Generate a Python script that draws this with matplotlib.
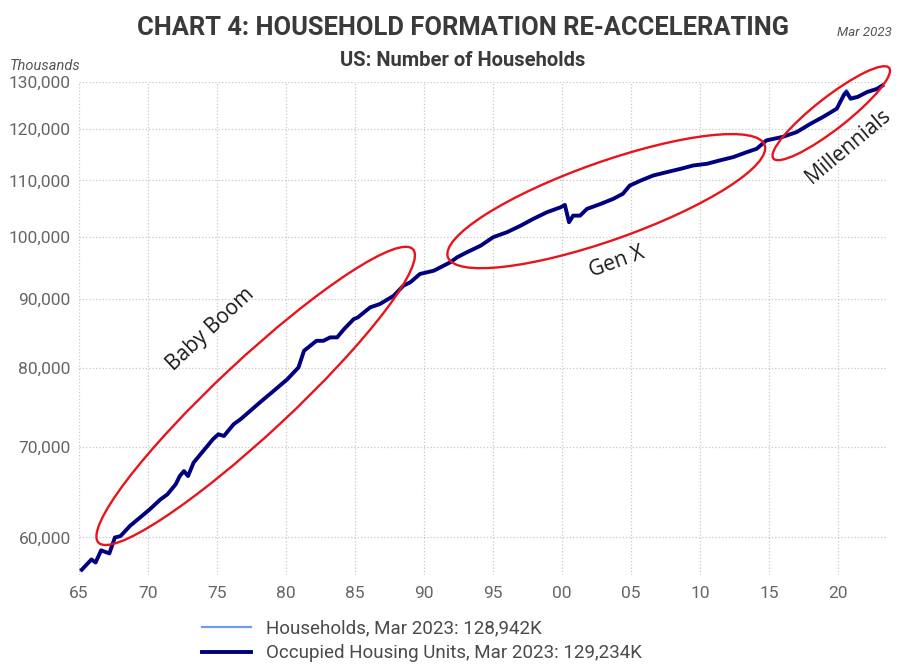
import numpy as np
import matplotlib.pyplot as plt
from matplotlib.patches import Ellipse
from matplotlib.transforms import ScaledTranslation
from matplotlib.ticker import FixedLocator, FuncFormatter, NullLocator

# quarterly-ish readings, thousands of households
years = [1965.2, 1965.9, 1966.2, 1966.6, 1967.2, 1967.6, 1968.0, 1968.7, 1969.4, 1970.1,
         1970.9, 1971.4, 1972.0, 1972.3, 1972.6, 1972.9, 1973.3, 1974.0, 1974.7, 1975.1,
         1975.5, 1976.2, 1976.7, 1977.4, 1978.1, 1979.1, 1980.1, 1980.9, 1981.3, 1982.2,
         1982.7, 1983.2, 1983.7, 1984.2, 1984.9, 1985.2, 1986.1, 1986.8, 1987.8, 1988.5,
         1989.0, 1989.7, 1990.7, 1991.9, 1992.4, 1993.1, 1994.1, 1995.0, 1996.0, 1997.0,
         1997.9, 1998.9, 1999.9, 2000.2, 2000.5, 2000.8, 2001.3, 2001.8, 2002.8, 2003.7,
         2004.4, 2004.9, 2005.7, 2006.6, 2007.6, 2008.6, 2009.5, 2010.5, 2011.4, 2012.4,
         2013.4, 2014.1, 2014.8, 2016.0, 2017.0, 2018.0, 2018.9, 2019.9, 2020.4, 2020.6,
         2020.9, 2021.4, 2022.1, 2022.8, 2023.2]
occupied = [56800, 57800, 57500, 58700, 58400, 60000, 60130, 61200, 62040, 62900,
            64000, 64550, 65660, 66590, 67160, 66590, 68130, 69490, 70880, 71490,
            71280, 72710, 73330, 74380, 75450, 76950, 78500, 80080, 82370, 83780,
            83780, 84270, 84270, 85460, 86920, 87180, 88680, 89180, 90440, 92000,
            92530, 93850, 94370, 95730, 96550, 97370, 98470, 99890, 100740, 101870,
            103040, 104220, 105110, 105520, 102470, 103620, 103620, 104810, 105710, 106610,
            107530, 109050, 109980, 110930, 111570, 112200, 112830, 113160, 113790, 114450,
            115430, 116080, 117730, 118460, 119420, 121120, 122510, 124250, 127090, 127820,
            126370, 126740, 127820, 128500, 129234]
households = [56800, 57800, 57500, 58700, 58400, 60000, 60130, 61200, 62040, 62900,
              64000, 64550, 65660, 66590, 67160, 66590, 68130, 69490, 70880, 71490,
              71280, 72710, 73330, 74380, 75450, 76950, 78500, 80080, 82370, 83780,
              83780, 84270, 84270, 85460, 86920, 87180, 88680, 89180, 90440, 92000,
              92530, 93850, 94370, 95730, 96550, 97370, 98470, 99890, 100740, 101870,
              103040, 104220, 105110, 105520, 102470, 103620, 103620, 104810, 105710, 106610,
              107530, 109050, 109980, 110930, 111570, 112200, 112830, 113160, 113790, 114450,
              115430, 116080, 117730, 118460, 119420, 121120, 122510, 124250, 127600, 128300,
              126700, 126900, 127700, 128300, 128942]

xticks = [1965, 1970, 1975, 1980, 1985, 1990, 1995, 2000, 2005, 2010, 2015, 2020]
yticks = [60000, 70000, 80000, 90000, 100000, 110000, 120000, 130000]

# generation annotations: label, centre year, centre value, text position
gen_labels = ['Baby Boom', 'Gen X', 'Millennials']
ell_center = [(1977.8, 76300), (2003.2, 106200), (2019.5, 123300)]
ell_size = [(4.30, 0.74), (3.36, 0.78), (1.47, 0.32)]   # inches
ell_angle = [43, 19.5, 38]
text_pos = [(1974.5, 85400), (2004.0, 95800), (2020.7, 116600)]
text_rot = [43, 20, 40]

plt.rcParams['font.family'] = ['Roboto', 'DejaVu Sans']

fig = plt.figure(figsize=(9.05, 6.67), dpi=100)
ax = fig.add_axes([0.0873, 0.138, 0.893, 0.739])

ax.plot(years, households, color='#6f9cf0', linewidth=1.6, label='Households, Mar 2023: 128,942K', zorder=3)
ax.plot(years, occupied, color='#00007f', linewidth=2.8, label='Occupied Housing Units, Mar 2023: 129,234K', zorder=4)

ax.set_yscale('log')
ax.set_xlim(1965, 2023.55)
ax.set_ylim(56300, 130000)
ax.yaxis.set_major_locator(FixedLocator(yticks))
ax.yaxis.set_minor_locator(NullLocator())
ax.yaxis.set_major_formatter(FuncFormatter(lambda v, p: f'{v:,.0f}'))
ax.set_xticks(xticks)
ax.set_xticklabels([f'{y % 100:02d}' for y in xticks])
ax.tick_params(axis='both', length=0, labelsize=12.5, colors='#666666', pad=8)
ax.tick_params(axis='y', pad=6)
ax.grid(True, color='#c8c8c8', linestyle=':', linewidth=0.9)
for s in ax.spines.values():
    s.set_visible(False)

for lab, c, sz, ang, tp, tr in zip(gen_labels, ell_center, ell_size, ell_angle, text_pos, text_rot):
    tr_e = fig.dpi_scale_trans + ScaledTranslation(c[0], c[1], ax.transData)
    e = Ellipse((0, 0), sz[0], sz[1], angle=ang, transform=tr_e, fill=False,
                edgecolor='#e8141c', linewidth=1.7, zorder=5, clip_on=False)
    ax.add_patch(e)
    ax.text(tp[0], tp[1], lab, rotation=tr, rotation_mode='anchor', ha='center', va='center',
            fontsize=15, color='#1a1a1a', family=['Open Sans', 'DejaVu Sans'], zorder=6)

fig.text(0.512, 0.958, 'CHART 4: HOUSEHOLD FORMATION RE-ACCELERATING', ha='center', va='center',
         fontsize=18.4, fontweight='bold', color='#3a3a3a')
fig.text(0.985, 0.952, 'Mar 2023', ha='right', va='center', fontsize=9.5, style='italic', color='#555555')
fig.text(0.511, 0.910, 'US: Number of Households', ha='center', va='center',
         fontsize=14.5, fontweight='bold', color='#3a3a3a')
fig.text(0.011, 0.901, 'Thousands', ha='left', va='center', fontsize=10.5, style='italic', color='#555555')

fig.legend(loc='upper left', bbox_to_anchor=(0.223, 0.071), frameon=False, fontsize=13.5,
           handlelength=2.6, labelspacing=0.35, borderaxespad=0, borderpad=0,
           labelcolor='#4a4a4a')

fig.savefig('out.png', dpi=100)
